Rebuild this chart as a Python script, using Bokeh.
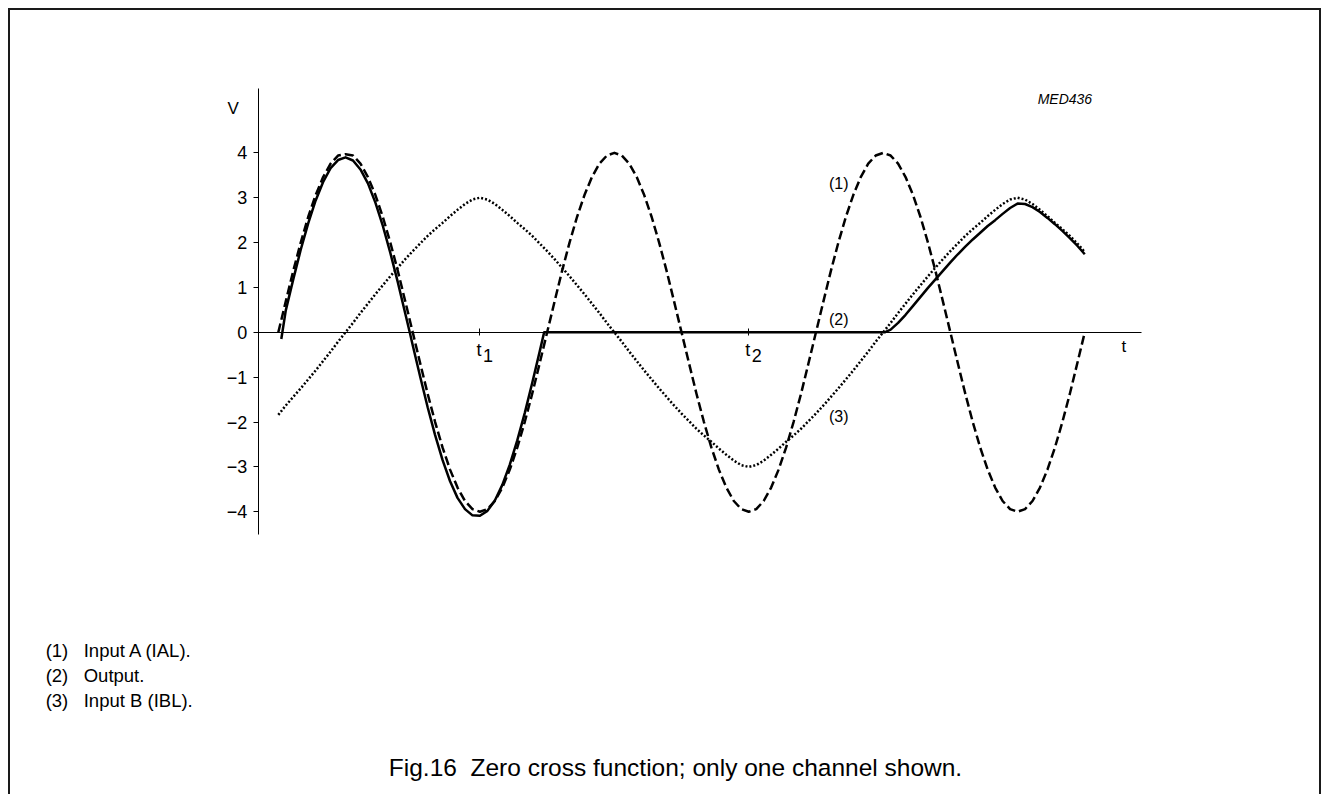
from bokeh.plotting import figure
from bokeh.models import Range1d, LinearAxis, FixedTicker, Label
from bokeh.embed import file_html
from bokeh.resources import INLINE

# time in degrees of the Input A phase (t1 = 270, t2 = 630)
t_a = [0, 10, 20, 30, 40, 50, 60, 70, 80, 90,
       100, 110, 120, 130, 140, 150, 160, 170, 180, 190,
       200, 210, 220, 230, 240, 250, 260, 270, 280, 290,
       300, 310, 320, 330, 340, 350, 360, 370, 380, 390,
       400, 410, 420, 430, 440, 450, 460, 470, 480, 490,
       500, 510, 520, 530, 540, 550, 560, 570, 580, 590,
       600, 610, 620, 630, 640, 650, 660, 670, 680, 690,
       700, 710, 720, 730, 740, 750, 760, 770, 780, 790,
       800, 810, 820, 830, 840, 850, 860, 870, 880, 890,
       900, 910, 920, 930, 940, 950, 960, 970, 980, 990,
       1000, 1010, 1020, 1030, 1040, 1050, 1060, 1070, 1080]

# (1) Input A (IAL) - dashed
input_a = [0.00, 0.69, 1.37, 2.00, 2.57, 3.06, 3.46, 3.76, 3.94, 3.97,
           3.94, 3.76, 3.46, 3.06, 2.57, 2.00, 1.37, 0.69, 0.00, -0.69,
           -1.37, -2.00, -2.57, -3.06, -3.46, -3.76, -3.94, -4.00, -3.94, -3.76,
           -3.46, -3.06, -2.57, -2.00, -1.37, -0.69, 0.00, 0.69, 1.37, 2.00,
           2.57, 3.06, 3.46, 3.76, 3.94, 4.00, 3.94, 3.76, 3.46, 3.06,
           2.57, 2.00, 1.37, 0.69, 0.00, -0.69, -1.37, -2.00, -2.57, -3.06,
           -3.46, -3.76, -3.94, -4.00, -3.94, -3.76, -3.46, -3.06, -2.57, -2.00,
           -1.37, -0.69, 0.00, 0.69, 1.37, 2.00, 2.57, 3.06, 3.46, 3.76,
           3.94, 4.00, 3.94, 3.76, 3.46, 3.06, 2.57, 2.00, 1.37, 0.69,
           0.00, -0.69, -1.37, -2.00, -2.57, -3.06, -3.46, -3.76, -3.94, -4.00,
           -3.94, -3.76, -3.46, -3.06, -2.57, -2.00, -1.37, -0.69, 0.00]

# (3) Input B (IBL) - dotted
t_b = t_a
input_b = [-1.84, -1.63, -1.44, -1.25, -1.05, -0.85, -0.64, -0.43, -0.21, 0.00,
           0.21, 0.43, 0.64, 0.85, 1.05, 1.25, 1.44, 1.63, 1.81, 1.98,
           2.15, 2.30, 2.44, 2.59, 2.73, 2.86, 2.96, 3.00, 2.96, 2.86,
           2.73, 2.59, 2.44, 2.30, 2.15, 1.98, 1.81, 1.63, 1.44, 1.25,
           1.05, 0.85, 0.64, 0.43, 0.21, 0.00, -0.21, -0.43, -0.64, -0.85,
           -1.05, -1.25, -1.44, -1.63, -1.81, -1.98, -2.15, -2.30, -2.44, -2.59,
           -2.73, -2.86, -2.96, -3.00, -2.96, -2.86, -2.73, -2.59, -2.44, -2.30,
           -2.15, -1.98, -1.81, -1.63, -1.44, -1.25, -1.05, -0.85, -0.64, -0.43,
           -0.21, 0.00, 0.21, 0.43, 0.64, 0.85, 1.05, 1.25, 1.44, 1.63,
           1.81, 1.98, 2.15, 2.30, 2.44, 2.59, 2.73, 2.86, 2.96, 3.00,
           2.96, 2.86, 2.73, 2.59, 2.44, 2.30, 2.15, 1.98, 1.79]

# (2) Output - solid
t_out = [4, 10, 20, 30, 40, 50, 60, 70, 80, 90,
         100, 110, 120, 130, 140, 150, 160, 170, 176, 180,
         190, 200, 210, 220, 230, 240, 250, 260, 270, 280,
         290, 300, 310, 320, 330, 340, 350, 356, 812, 820,
         830, 840, 850, 860, 870, 880, 890, 900, 910, 920,
         930, 940, 950, 960, 970, 980, 990, 1000, 1010, 1020,
         1030, 1040, 1050, 1060, 1070, 1080]
output = [-0.15, 0.49, 1.18, 1.84, 2.43, 2.94, 3.35, 3.66, 3.84, 3.90,
          3.83, 3.63, 3.32, 2.89, 2.37, 1.77, 1.12, 0.42, 0.00, -0.29,
          -0.99, -1.67, -2.29, -2.85, -3.32, -3.69, -3.94, -4.08, -4.09, -3.98,
          -3.75, -3.40, -2.95, -2.41, -1.80, -1.13, -0.43, 0.00, 0.00, 0.06,
          0.21, 0.39, 0.59, 0.79, 0.99, 1.18, 1.37, 1.56, 1.74, 1.91,
          2.07, 2.22, 2.37, 2.50, 2.64, 2.77, 2.87, 2.86, 2.79, 2.68,
          2.55, 2.41, 2.26, 2.10, 1.93, 1.74]

y_ticks = [-4, -3, -2, -1, 0, 1, 2, 3, 4]
y_tick_labels = ["\u22124", "\u22123", "\u22122", "\u22121", "0", "1", "2", "3", "4"]
t_marks = [270, 630]
t_mark_subs = ["1", "2"]
curve_tags = ["(1)", "(2)", "(3)"]
note_ids = ["(1)", "(2)", "(3)"]
note_texts = ["Input A (IAL).", "Output.", "Input B (IBL)."]
code_text = "MED436"
caption = "Fig.16 \u00a0Zero cross function; only one channel shown."

FONT = "Liberation Sans"

p = figure(width=1313, height=786, output_backend="svg", toolbar_location=None,
           x_axis_type=None, y_axis_type=None, min_border=0,
           x_range=Range1d(-358.66, 1399.70), y_range=Range1d(-10.346, 7.173))
p.outline_line_color = None
p.background_fill_color = "white"
p.border_fill_color = "white"
p.styles = {"margin-left": "8px", "margin-top": "8px",
            "border-top": "2px solid #1a1a1a", "border-left": "2px solid #1a1a1a",
            "border-right": "2px solid #1a1a1a"}

yaxis = LinearAxis(fixed_location=-26.87, bounds=(-4.514, 5.430),
                   ticker=FixedTicker(ticks=y_ticks),
                   major_label_overrides={v: s for v, s in zip(y_ticks, y_tick_labels)})
yaxis.major_tick_out = 5
yaxis.major_tick_in = 0
yaxis.minor_tick_line_color = None
yaxis.major_label_standoff = 6
yaxis.major_label_text_font = FONT
yaxis.major_label_text_font_size = "18px"
yaxis.major_label_text_color = "black"
yaxis.axis_line_color = "black"
yaxis.major_tick_line_color = "black"
p.add_layout(yaxis, "left")

xaxis = LinearAxis(fixed_location=0, bounds=(-26.87, 1156.57),
                   ticker=FixedTicker(ticks=t_marks),
                   major_label_overrides={v: "" for v in t_marks})
xaxis.major_tick_out = 3
xaxis.major_tick_in = 4
xaxis.minor_tick_line_color = None
xaxis.axis_line_color = "black"
xaxis.major_tick_line_color = "black"
p.add_layout(xaxis, "below")

p.line(t_b, input_b, line_color="black", line_width=2.5, line_dash="2 2")
p.line(t_a, input_a, line_color="black", line_width=2.5, line_dash="9 4", line_join="round")
p.line(t_out, output, line_color="black", line_width=2.5, line_join="round")

def lab(x, y, text, size, align="center", italic=False, xo=0):
    p.add_layout(Label(x=x, y=y, text=text, text_font=FONT, text_font_size=size,
                       text_align=align, text_baseline="middle", text_color="black",
                       x_offset=xo, text_font_style="italic" if italic else "normal"))

lab(-60.4, 4.98, "V", "17px")
lab(1132.4, -0.313, "t", "17px")
lab(1016.9, 5.21, code_text, "14px", align="left", italic=True)
for tag, yy in zip(curve_tags, [3.31, 0.284, -1.877]):
    lab(750.5, yy, tag, "16px")
for tm, sub in zip(t_marks, t_mark_subs):
    lab(tm, -0.391, "t", "18px", xo=-1)
    lab(tm, -0.507, sub, "18px", align="left", xo=3)
for nid, txt, yy in zip(note_ids, note_texts, [-7.084, -7.642, -8.201]):
    lab(-311.6, yy, nid, "18.5px", align="left")
    lab(-260.6, yy, txt, "18.5px", align="left")
lab(531.9, -9.698, caption, "24.5px")

open("out.html", "w").write(file_html(p, INLINE))
